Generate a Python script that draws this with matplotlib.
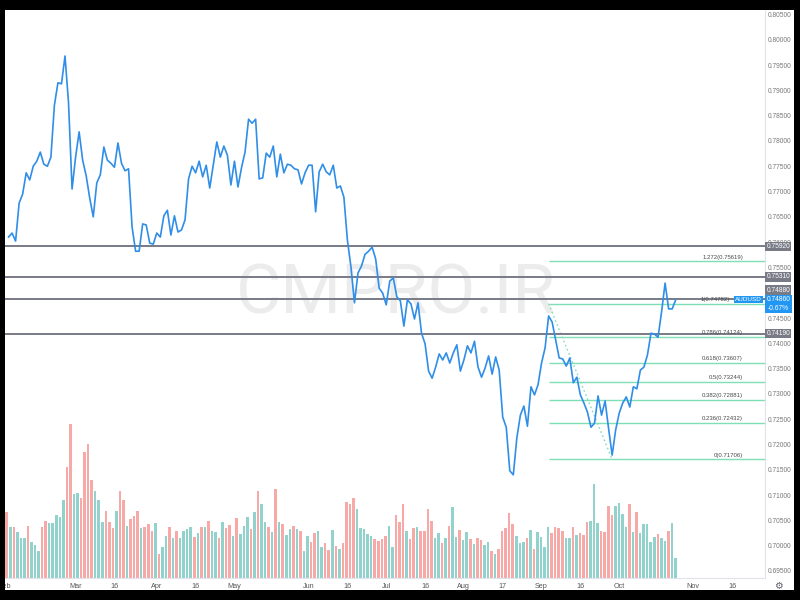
import numpy as np
import pandas as pd
import matplotlib
matplotlib.use("Agg")
import matplotlib.pyplot as plt
from matplotlib.patches import Rectangle
from matplotlib.transforms import blended_transform_factory

plt.rcParams['font.family'] = ['Liberation Sans', 'DejaVu Sans']

# ---------------- data ----------------
symbol = "AUDUSD"
start_date = "2021-02-02"
end_date = "2021-10-25"

close = [0.7610, 0.7618, 0.7602, 0.7677, 0.7695, 0.7737, 0.7723, 0.7750, 0.7760, 0.7778,
         0.7754, 0.7750, 0.7768, 0.7871, 0.7915, 0.7913, 0.7968, 0.7875, 0.7705, 0.7768,
         0.7818, 0.7762, 0.7731, 0.7687, 0.7650, 0.7717, 0.7733, 0.7788, 0.7762, 0.7756,
         0.7748, 0.7796, 0.7756, 0.7741, 0.7745, 0.7630, 0.7582, 0.7582, 0.7636, 0.7634,
         0.7598, 0.7596, 0.7618, 0.7610, 0.7652, 0.7663, 0.7614, 0.7652, 0.7620, 0.7624,
         0.7644, 0.7725, 0.7750, 0.7737, 0.7760, 0.7729, 0.7752, 0.7707, 0.7752, 0.7798,
         0.7768, 0.7790, 0.7772, 0.7713, 0.7760, 0.7709, 0.7747, 0.7778, 0.7843, 0.7835,
         0.7843, 0.7725, 0.7727, 0.7776, 0.7768, 0.7790, 0.7729, 0.7774, 0.7737, 0.7754,
         0.7752, 0.7745, 0.7743, 0.7715, 0.7737, 0.7752, 0.7752, 0.7660, 0.7739, 0.7754,
         0.7739, 0.7733, 0.7752, 0.7707, 0.7711, 0.7689, 0.7604, 0.7551, 0.7480, 0.7539,
         0.7553, 0.7576, 0.7582, 0.7590, 0.7567, 0.7509, 0.7499, 0.7476, 0.7523, 0.7529,
         0.7492, 0.7484, 0.7434, 0.7486, 0.7478, 0.7448, 0.7480, 0.7420, 0.7399, 0.7345,
         0.7331, 0.7353, 0.7379, 0.7367, 0.7381, 0.7361, 0.7381, 0.7397, 0.7345, 0.7367,
         0.7395, 0.7381, 0.7404, 0.7353, 0.7333, 0.7351, 0.7375, 0.7339, 0.7373, 0.7347,
         0.7254, 0.7234, 0.7148, 0.7140, 0.7213, 0.7258, 0.7276, 0.7236, 0.7314, 0.7298,
         0.7318, 0.7361, 0.7391, 0.7454, 0.7442, 0.7406, 0.7371, 0.7369, 0.7355, 0.7371,
         0.7322, 0.7333, 0.7298, 0.7282, 0.7264, 0.7234, 0.7242, 0.7296, 0.7258, 0.7286,
         0.7231, 0.7179, 0.7229, 0.7262, 0.7282, 0.7294, 0.7274, 0.7314, 0.7310, 0.7347,
         0.7353, 0.7377, 0.7420, 0.7418, 0.7412, 0.7462, 0.7519, 0.7468, 0.7468, 0.7486]

volume = [65.7, 51.3, 51.3, 45.7, 40, 40, 52, 36.3, 33, 27.3,
          50.7, 57.3, 54.7, 54.7, 62.7, 60.7, 78, 110.7, 153.7, 84,
          84.7, 79.7, 126.3, 133.7, 98, 87.3, 78, 56.3, 67.3, 56.3,
          50.3, 67.3, 87, 78, 52, 58.7, 62, 67, 49.7, 51.3,
          53.7, 47.3, 54.7, 24, 31.3, 42, 50.7, 40.3, 47.3, 39.7,
          47.3, 49, 51, 41.3, 44.7, 51, 50.7, 57.3, 46.7, 45.7,
          40.3, 56.3, 50.3, 52.7, 42, 59.7, 43.7, 52.3, 61.3, 49.3,
          65.7, 87, 74, 56.3, 50.7, 46.3, 89, 56.3, 54, 43,
          48.7, 52, 48.7, 47, 27.3, 42, 36.3, 45.3, 47.3, 30.7,
          34.7, 28, 48, 32.3, 29, 35.3, 75.7, 74, 79.7, 68.7,
          50.3, 49, 43.7, 42, 38.7, 37.3, 39, 42, 52.3, 30.7,
          62.7, 56.3, 74, 47, 39, 50.3, 50.7, 47, 47, 69,
          57.3, 39.7, 45.3, 34.7, 39.7, 52, 71.3, 41.3, 47.7, 38,
          46.3, 39.3, 34, 40.3, 38, 33, 36.3, 27, 23.7, 29,
          47.3, 49.7, 64.7, 54, 42, 34.7, 35.7, 39.7, 48, 28.7,
          45.7, 41.3, 31.3, 50.7, 44.7, 50.7, 49.7, 47.3, 40.3, 40.3,
          51.3, 43, 44.7, 43, 56.3, 57, 94, 54.7, 47.3, 46.3,
          72, 63, 72, 75.3, 63.7, 51.3, 74, 46.3, 66, 45.3,
          54, 54, 36.3, 41.3, 43.7, 39.7, 37, 47, 55.3, 19.7]

# 1 = up (teal) bar, 0 = down (red) bar
vol_up = [0, 1, 0, 1, 1, 1, 0, 1, 1, 1,
          0, 0, 1, 1, 1, 1, 1, 0, 0, 1,
          1, 0, 0, 0, 0, 1, 1, 1, 0, 0,
          0, 1, 0, 0, 1, 0, 0, 0, 1, 0,
          0, 0, 1, 0, 1, 1, 0, 1, 0, 1,
          1, 1, 1, 0, 1, 0, 1, 0, 1, 1,
          0, 1, 0, 0, 1, 0, 1, 1, 1, 0,
          1, 0, 1, 1, 0, 1, 0, 1, 0, 1,
          1, 0, 1, 0, 1, 1, 0, 0, 1, 1,
          0, 0, 1, 0, 1, 0, 0, 0, 0, 1,
          1, 1, 1, 1, 0, 0, 0, 0, 1, 1,
          0, 0, 0, 1, 0, 0, 1, 0, 0, 0,
          0, 1, 1, 0, 1, 0, 1, 1, 0, 1,
          1, 0, 1, 0, 0, 1, 1, 0, 1, 0,
          0, 0, 0, 0, 1, 1, 1, 0, 1, 0,
          1, 1, 1, 1, 0, 0, 0, 0, 1, 1,
          0, 1, 0, 0, 0, 1, 1, 1, 0, 0,
          0, 0, 1, 1, 1, 1, 0, 1, 0, 1,
          1, 1, 1, 1, 0, 1, 1, 0, 1, 1]

hline_prices = [0.7592, 0.7531, 0.7488, 0.7419]
hline_labels = ["0.75920", "0.75310", "0.74880", "0.74190"]

fib_ratios = ["1.272", "1", "0.786", "0.618", "0.5", "0.382", "0.236", "0"]
fib_prices = [0.75619, 0.74782, 0.74124, 0.73607, 0.73244, 0.72881, 0.72432, 0.71706]
fib_high_date = "2021-09-03"
fib_low_date = "2021-09-29"

last_price = "0.74860"
last_change = "-0.67%"

tick_dates = ["2021-02-01", "2021-03-01", "2021-03-16", "2021-04-01", "2021-04-16",
              "2021-05-03", "2021-06-01", "2021-06-16", "2021-07-01", "2021-07-16",
              "2021-08-02", "2021-08-17", "2021-09-01", "2021-09-16", "2021-10-01",
              "2021-11-01", "2021-11-16"]
tick_labels = ["Feb", "Mar", "16", "Apr", "16", "May", "Jun", "16", "Jul", "16",
               "Aug", "17", "Sep", "16", "Oct", "Nov", "16"]

# price-scale ticks (0.75000 is hidden behind the line labels in the original)
price_ticks = [0.695, 0.700, 0.705, 0.710, 0.715, 0.720, 0.725, 0.730, 0.735, 0.740,
               0.745, 0.755, 0.760, 0.765, 0.770, 0.775, 0.780, 0.785, 0.790, 0.795,
               0.800, 0.805]

# ---------------- positions (trading-day calendar) ----------------
calendar = pd.bdate_range("2021-02-01", "2021-12-31")
dates = pd.bdate_range(start_date, end_date)
x = calendar.get_indexer(dates)
tick_x = calendar.get_indexer(pd.to_datetime(tick_dates))
fib_x0 = calendar.get_loc(pd.Timestamp(fib_high_date))
fib_x1 = calendar.get_loc(pd.Timestamp(fib_low_date))

XLIM = (0.51, 215.3)
YLIM = (0.69360, 0.80589)

# ---------------- figure ----------------
W, H = 800, 600
fig = plt.figure(figsize=(8, 6), dpi=100)
fig.patch.set_facecolor("black")


def fx(p):
    return p / W


def fy(p):
    return 1 - p / H


# white screen
fig.add_artist(Rectangle((fx(5), fy(593)), fx(789), 583 / H, transform=fig.transFigure,
                         facecolor="white", edgecolor="none", zorder=-5))

rect = [fx(5), fy(578), 760 / W, 568 / H]

# volume pane (below)
vax = fig.add_axes(rect)
vax.set_facecolor("white")
cols = ["#92d2cc" if u else "#f7a9a7" for u in vol_up]
vax.bar(x, volume, width=0.72, color=cols, linewidth=0)
vax.set_xlim(*XLIM)
vax.set_ylim(0, 568)
vax.axis("off")

# watermark
vax.text(fx(396), fy(295), "CMPRO.IR", transform=fig.transFigure, ha="center", va="center",
         fontsize=50, color="#ececec", family=["Roboto", "DejaVu Sans"], zorder=0)

# price pane (on top)
ax = fig.add_axes(rect)
ax.patch.set_alpha(0)
ax.set_xlim(*XLIM)
ax.set_ylim(*YLIM)

for p in hline_prices:
    ax.axhline(p, color="#787b86", lw=1.4, zorder=3)

fib_color = "#7fdfb5"
for p in fib_prices:
    ax.hlines(p, fib_x0, XLIM[1], color=fib_color, lw=1.0, zorder=2)
ax.plot([fib_x0, fib_x1], [fib_prices[1], fib_prices[-1]], color=fib_color, lw=1.0,
        ls=(0, (1.2, 2)), zorder=2)

tr = blended_transform_factory(fig.transFigure, ax.transData)
for r, p in zip(fib_ratios, fib_prices):
    right_px = 730 if r == "1" else 743
    ax.text(fx(right_px), p + 0.00035, f"{r}({p:.5f})", transform=tr, ha="right", va="bottom",
            fontsize=4.3, color="#4a4a4a", zorder=4)

ax.plot(x, close, color="#2f8ee8", lw=1.2, zorder=5, solid_joinstyle="round")

for s in ["top", "left"]:
    ax.spines[s].set_visible(False)
ax.spines["right"].set_color("#e0e3eb")
ax.spines["bottom"].set_color("#e0e3eb")

ax.yaxis.set_ticks_position("right")
ax.set_yticks(price_ticks)
ax.set_yticklabels([f"{t:.5f}" for t in price_ticks])
ax.tick_params(axis="y", length=0, pad=2.2, labelsize=4.8, labelcolor="#777777")

ax.set_xticks(tick_x)
ax.set_xticklabels(tick_labels)
ax.tick_params(axis="x", length=0, pad=3.5, labelsize=5.2, labelcolor="#555555")

# price-scale labels
box_kw = dict(boxstyle="square,pad=0.18", edgecolor="none")
label_y_px = [246.6, 277.0, 290.0, 333.4]
for lab, ypx in zip(hline_labels, label_y_px):
    fig.text(fx(766.5), fy(ypx), lab, ha="left", va="center", fontsize=4.8, color="white",
             bbox=dict(facecolor="#787b86", **box_kw))

fig.text(fx(778.5), fy(304), f"{last_price}\n{last_change}", ha="center", va="center",
         fontsize=4.8, color="white", linespacing=1.35,
         bbox=dict(facecolor="#2196f3", **box_kw))
fig.text(fx(762), fy(299.5), symbol, ha="right", va="center", fontsize=4.6, color="white",
         bbox=dict(facecolor="#2196f3", **box_kw))

fig.text(fx(778), fy(586), "\u2699", ha="center", va="center", fontsize=7,
         color="#5d606b", family=["DejaVu Sans"])

# black frame on top
for (x0, y0, w, h) in [(0, 0, 5, 600), (794, 0, 6, 600), (0, 0, 800, 7), (0, 590, 800, 10)]:
    fig.add_artist(Rectangle((fx(x0), fy(y0 + h)), w / W, h / H, transform=fig.transFigure,
                             facecolor="black", edgecolor="none", zorder=20))

fig.savefig("out.png", dpi=100, facecolor=fig.get_facecolor())
